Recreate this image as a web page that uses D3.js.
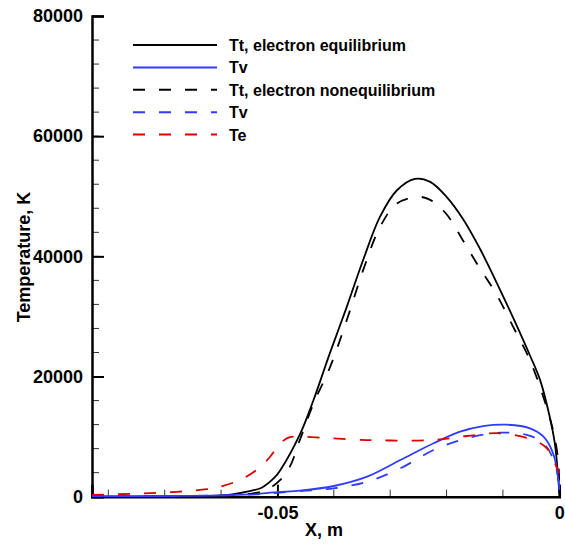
<!DOCTYPE html>
<html>
<head>
<meta charset="utf-8">
<script src="https://cdn.jsdelivr.net/npm/d3@7"></script>
<style>
body { margin: 0; background: #fff; }
svg { display: block; font-family: "Liberation Sans", Arial, Helvetica, sans-serif; font-weight: bold; }
</style>
</head>
<body>
<svg id="chart" width="565" height="548"></svg>
<script>
// X positions (m) and temperatures (K)
var ttEqX = [-0.0829, -0.07, -0.062, -0.058, -0.0554, -0.0528, -0.0505, -0.0495, -0.046, -0.0436, -0.0407, -0.0377, -0.0348, -0.0318, -0.0288, -0.0256, -0.0229, -0.02, -0.017, -0.0141, -0.0111, -0.0082, -0.0052, -0.0034, -0.0017, -0.0008, -0.0002, 0];
var ttEqY = [0, 30, 120, 400, 850, 1500, 3200, 4400, 10400, 16100, 23900, 31600, 39400, 46600, 51000, 52900, 52400, 49900, 46100, 41300, 35600, 29800, 23500, 19400, 13300, 8900, 3300, 500];

var tvEqX = [-0.0829, -0.07, -0.06, -0.055, -0.05, -0.046, -0.04, -0.0341, -0.0282, -0.0223, -0.0176, -0.0135, -0.0093, -0.0052, -0.0028, -0.0011, -0.0002, 0];
var tvEqY = [80, 120, 220, 380, 750, 1000, 1780, 3330, 6100, 8890, 10820, 11760, 11980, 11380, 9980, 7220, 3330, 1100];

var ttNeqX = [-0.0829, -0.065, -0.058, -0.055, -0.052, -0.0495, -0.0478, -0.046, -0.0436, -0.0407, -0.0377, -0.0348, -0.0318, -0.0288, -0.025, -0.0229, -0.02, -0.017, -0.0141, -0.0111, -0.0082, -0.0052, -0.0028, -0.0011, -0.0002, 0];
var ttNeqY = [0, 40, 200, 450, 1100, 2800, 5000, 9500, 15500, 21500, 29400, 37700, 44900, 48800, 49900, 49400, 47000, 42500, 38000, 33600, 28300, 22700, 16500, 11000, 6100, 1500];

var tvNeqX = [-0.0829, -0.07, -0.06, -0.055, -0.05, -0.045, -0.04, -0.0341, -0.0282, -0.0223, -0.0164, -0.0105, -0.0058, -0.0028, -0.0008, 0];
var tvNeqY = [80, 110, 200, 340, 650, 1000, 1400, 2500, 4720, 7770, 9720, 10650, 10270, 8890, 5560, 1800];

var teX = [-0.0829, -0.075, -0.068, -0.0625, -0.0602, -0.0566, -0.0537, -0.0513, -0.0495, -0.0478, -0.046, -0.0341, -0.0223, -0.0164, -0.0105, -0.0046, -0.0022, -0.0005, 0];
var teY = [300, 500, 800, 1250, 1660, 2800, 4450, 6650, 8900, 9900, 9980, 9430, 9430, 10100, 10550, 9430, 8050, 5000, 3900];

var seriesNames = ["Tt, electron equilibrium", "Tv", "Tt, electron nonequilibrium", "Tv", "Te"];
var xTicks = [-0.05, 0];
var xTickLabels = ["-0.05", "0"];
var yTicks = [0, 20000, 40000, 60000, 80000];

var series = [
    {name: seriesNames[0], xs: ttEqX, ys: ttEqY, color: "#000000", dash: null},
    {name: seriesNames[1], xs: tvEqX, ys: tvEqY, color: "#2f3cff", dash: null},
    {name: seriesNames[2], xs: ttNeqX, ys: ttNeqY, color: "#000000", dash: "12,14"},
    {name: seriesNames[3], xs: tvNeqX, ys: tvNeqY, color: "#2f3cff", dash: "12,14"},
    {name: seriesNames[4], xs: teX, ys: teY, color: "#dd0000", dash: "12,14"}
];

var svg = d3.select('#chart');

var x = d3.scaleLinear().domain([-0.0829, 0]).range([92, 559.3]);
var y = d3.scaleLinear().domain([0, 80000]).range([496.7, 16]);

// minor ticks
var xMinor = d3.range(-0.08, 0.0001, 0.01);
var yMinor = d3.range(0, 80001, 4000);

svg.append('g')
    .selectAll('line')
    .data(yMinor)
    .join('line')
    .attr('x1', 92).attr('x2', 99)
    .attr('y1', function(d) { return y(d); })
    .attr('y2', function(d) { return y(d); })
    .attr('stroke', '#333').attr('stroke-width', 1);

svg.append('g')
    .selectAll('line')
    .data(xMinor)
    .join('line')
    .attr('x1', function(d) { return x(d); })
    .attr('x2', function(d) { return x(d); })
    .attr('y1', 496.7).attr('y2', 489.7)
    .attr('stroke', '#333').attr('stroke-width', 1);

var yAxis = svg.append('g')
    .attr('transform', 'translate(92,0)')
    .call(d3.axisLeft(y).tickValues(yTicks).tickSize(-12).tickPadding(9).tickFormat(d3.format('d')));

var xAxis = svg.append('g')
    .attr('transform', 'translate(0,496.7)')
    .call(d3.axisBottom(x).tickValues(xTicks).tickSize(-12).tickPadding(10)
        .tickFormat(function(d, i) { return xTickLabels[i]; }));

[yAxis, xAxis].forEach(function(a) {
    a.select('.domain').attr('stroke', '#000').attr('stroke-width', 2.5);
    a.selectAll('.tick line').attr('stroke', '#000').attr('stroke-width', 2);
    a.selectAll('.tick text')
        .attr('fill', '#000')
        .style('font-size', '18px')
        .style('font-weight', 'bold')
        .style('font-family', '"Liberation Sans", Arial, sans-serif');
});

// curves
var line = d3.line()
    .x(function(d) { return x(d[0]); })
    .y(function(d) { return y(d[1]); })
    .curve(d3.curveCatmullRom.alpha(0.5));

svg.append('g')
    .selectAll('path')
    .data(series)
    .join('path')
    .attr('d', function(s) { return line(d3.zip(s.xs, s.ys)); })
    .attr('fill', 'none')
    .attr('stroke', function(s) { return s.color; })
    .attr('stroke-width', 1.8)
    .attr('stroke-dasharray', function(s) { return s.dash; });

// axis titles
svg.append('text')
    .attr('x', 324).attr('y', 536)
    .attr('text-anchor', 'middle')
    .style('font-size', '18px')
    .text('X, m');

svg.append('text')
    .attr('transform', 'translate(30,257) rotate(-90)')
    .attr('text-anchor', 'middle')
    .style('font-size', '18px')
    .text('Temperature, K');

// legend
var legend = svg.append('g')
    .selectAll('g')
    .data(series)
    .join('g')
    .attr('transform', function(d, i) { return 'translate(0,' + (45 + i * 22.4) + ')'; });

legend.append('line')
    .attr('x1', 133).attr('x2', 217)
    .attr('stroke', function(s) { return s.color; })
    .attr('stroke-width', 2)
    .attr('stroke-dasharray', function(s) { return s.dash; });

legend.append('text')
    .attr('x', 229).attr('y', 6)
    .style('font-size', '16px')
    .text(function(s) { return s.name; });
</script>
</body>
</html>
